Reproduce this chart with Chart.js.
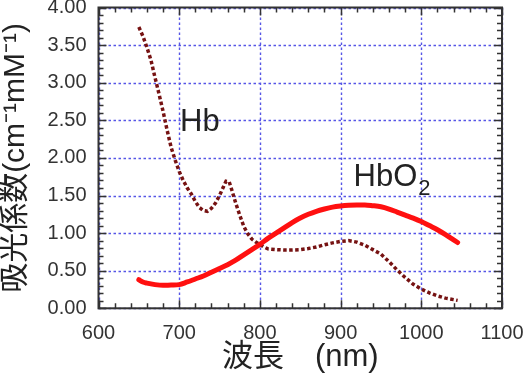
<!DOCTYPE html>
<html lang="ja">
<head>
  <meta charset="UTF-8">
  <title>吸光係数</title>
  <script src="https://cdn.jsdelivr.net/npm/chart.js@4.4.0/dist/chart.umd.min.js"></script>
  <style>
    body { margin: 0; background: #fff; }
    #wrap { width: 526px; height: 380px; }
  </style>
</head>
<body>
  <div id="wrap"><canvas id="myChart" width="526" height="380"></canvas></div>
  <script>
    // Hb (deoxy) — wavelength nm / absorption coefficient
    const hbWave = [650, 655, 660, 665, 670, 675, 680, 685, 690, 695, 700, 705, 710, 715, 720, 725, 730, 735, 740, 745, 750, 755, 758, 762, 765, 770, 775, 780, 785, 790, 795, 800, 805, 810, 820, 830, 840, 850, 860, 870, 880, 890, 900, 910, 920, 930, 940, 950, 960, 970, 980, 990, 1000, 1010, 1020, 1030, 1040, 1045];
    const hbVals = [3.74, 3.62, 3.47, 3.30, 3.07, 2.85, 2.62, 2.37, 2.14, 1.97, 1.82, 1.70, 1.60, 1.52, 1.42, 1.34, 1.30, 1.29, 1.33, 1.40, 1.50, 1.62, 1.69, 1.68, 1.58, 1.40, 1.24, 1.09, 0.99, 0.92, 0.88, 0.85, 0.815, 0.79, 0.78, 0.775, 0.775, 0.78, 0.795, 0.815, 0.845, 0.87, 0.89, 0.90, 0.88, 0.84, 0.78, 0.72, 0.62, 0.51, 0.41, 0.32, 0.255, 0.205, 0.165, 0.135, 0.115, 0.105];

    // HbO2 (oxy)
    const hbo2Wave = [650, 655, 660, 670, 680, 690, 700, 710, 720, 730, 740, 750, 760, 770, 780, 790, 800, 810, 820, 830, 840, 850, 860, 870, 880, 890, 900, 910, 920, 930, 940, 950, 960, 970, 980, 990, 1000, 1010, 1020, 1030, 1040, 1045];
    const hbo2Vals = [0.38, 0.35, 0.335, 0.315, 0.305, 0.31, 0.315, 0.35, 0.39, 0.43, 0.48, 0.53, 0.58, 0.64, 0.71, 0.78, 0.85, 0.93, 1.00, 1.07, 1.14, 1.20, 1.25, 1.29, 1.32, 1.345, 1.36, 1.37, 1.375, 1.375, 1.365, 1.35, 1.32, 1.28, 1.24, 1.20, 1.155, 1.10, 1.045, 0.98, 0.91, 0.875];

    const xMin = 600, xMax = 1100, xStep = 100, xMinor = 20;
    const yMin = 0, yMax = 4, yStep = 0.5, yMinor = 0.1;

    const xTitle = '波長　(nm)';
    const yTitle = '吸光係数(cm⁻¹mM⁻¹)';

    const pts = (xs, ys) => xs.map((x, i) => ({ x: x, y: ys[i] }));

    const LATIN = "'Liberation Sans', Arial, 'Noto Sans CJK JP', sans-serif";

    // dotted blue grid at the major ticks, under the curves
    const gridPlugin = {
      id: 'dotgrid',
      beforeDatasetsDraw(chart) {
        const ctx = chart.ctx, a = chart.chartArea;
        const xs = chart.scales.x, ys = chart.scales.y;
        ctx.save();
        ctx.strokeStyle = '#5656e6';
        ctx.lineWidth = 1.4;
        ctx.setLineDash([2.5, 2.5]);
        ctx.beginPath();
        xs.ticks.forEach(t => {
          const px = Math.round(xs.getPixelForValue(t.value)) + 0.5;
          ctx.moveTo(px, a.top); ctx.lineTo(px, a.bottom);
        });
        ys.ticks.forEach(t => {
          const py = Math.round(ys.getPixelForValue(t.value)) + 0.5;
          ctx.moveTo(a.left, py); ctx.lineTo(a.right, py);
        });
        ctx.stroke();
        ctx.restore();
      }
    };

    // frame, inward ticks on all sides, and the curve labels
    const framePlugin = {
      id: 'frame',
      afterDraw(chart) {
        const ctx = chart.ctx, a = chart.chartArea;
        const xs = chart.scales.x, ys = chart.scales.y;
        ctx.save();
        ctx.strokeStyle = '#333';
        ctx.lineWidth = 1.5;
        ctx.beginPath();
        for (let v = xMin; v <= xMax + 0.001; v += xMinor) {
          const px = Math.round(xs.getPixelForValue(v)) + 0.5;
          const len = (Math.abs(v % xStep) < 0.001) ? 8 : 5;
          ctx.moveTo(px, a.bottom); ctx.lineTo(px, a.bottom - len);
          ctx.moveTo(px, a.top); ctx.lineTo(px, a.top + len);
        }
        for (let i = 0; i <= Math.round((yMax - yMin) / yMinor); i++) {
          const v = yMin + i * yMinor;
          const py = Math.round(ys.getPixelForValue(v)) + 0.5;
          const len = (i % 5 === 0) ? 8 : 5;
          ctx.moveTo(a.left, py); ctx.lineTo(a.left + len, py);
          ctx.moveTo(a.right, py); ctx.lineTo(a.right - len, py);
        }
        ctx.stroke();
        ctx.lineWidth = 2;
        ctx.strokeRect(a.left, a.top, a.right - a.left, a.bottom - a.top);

        ctx.fillStyle = '#222';
        ctx.font = '31px ' + LATIN;
        ctx.textBaseline = 'alphabetic';
        ctx.textAlign = 'left';
        ctx.fillText('Hb', xs.getPixelForValue(701), ys.getPixelForValue(2.36));
        const hx = xs.getPixelForValue(916), hy = ys.getPixelForValue(1.63);
        ctx.fillText('HbO', hx, hy);
        const w = ctx.measureText('HbO').width;
        ctx.font = '22px ' + LATIN;
        ctx.fillText('2', hx + w + 1, hy + 9);
        ctx.restore();
      }
    };

    const ctx = document.getElementById('myChart');

    new Chart(ctx, {
      type: 'scatter',
      data: {
        datasets: [{
          label: 'HbO2',
          data: pts(hbo2Wave, hbo2Vals),
          showLine: true,
          borderColor: '#ff1010',
          borderWidth: 5,
          borderCapStyle: 'round',
          borderJoinStyle: 'round',
          pointRadius: 0,
          cubicInterpolationMode: 'monotone'
        }, {
          label: 'Hb',
          data: pts(hbWave, hbVals),
          showLine: true,
          borderColor: '#761212',
          borderWidth: 3.5,
          borderDash: [3.5, 2.5],
          borderCapStyle: 'butt',
          pointRadius: 0,
          tension: 0
        }]
      },
      options: {
        responsive: false,
        animation: false,
        events: [],
        layout: { padding: { top: 7.5, right: 24, left: 0, bottom: 0 } },
        plugins: { legend: { display: false }, tooltip: { enabled: false } },
        scales: {
          x: {
            type: 'linear',
            min: xMin, max: xMax,
            afterFit: (s) => { s.height = 71.7; s.paddingLeft = 0; s.paddingRight = 0; },
            ticks: {
              stepSize: xStep,
              padding: 13,
              color: '#333',
              font: { family: LATIN, size: 20 },
              callback: (v) => String(v)
            },
            grid: { display: false, drawTicks: false },
            border: { display: false },
            title: {
              display: true,
              text: xTitle,
              color: '#222',
              font: { family: LATIN, size: 31, lineHeight: 1.2 },
              padding: { top: 4, bottom: 4 }
            }
          },
          y: {
            type: 'linear',
            min: yMin, max: yMax,
            afterFit: (s) => { s.width = 98.5; s.paddingTop = 0; s.paddingBottom = 0; },
            ticks: {
              stepSize: yStep,
              padding: 12,
              color: '#333',
              font: { family: LATIN, size: 20 },
              callback: (v) => Number(v).toFixed(2)
            },
            grid: { display: false, drawTicks: false },
            border: { display: false },
            title: {
              display: true,
              text: yTitle,
              color: '#222',
              font: { family: LATIN, size: 30, lineHeight: 1.0 },
              padding: { top: 1, bottom: 0 }
            }
          }
        }
      },
      plugins: [gridPlugin, framePlugin]
    });
  </script>
</body>
</html>
